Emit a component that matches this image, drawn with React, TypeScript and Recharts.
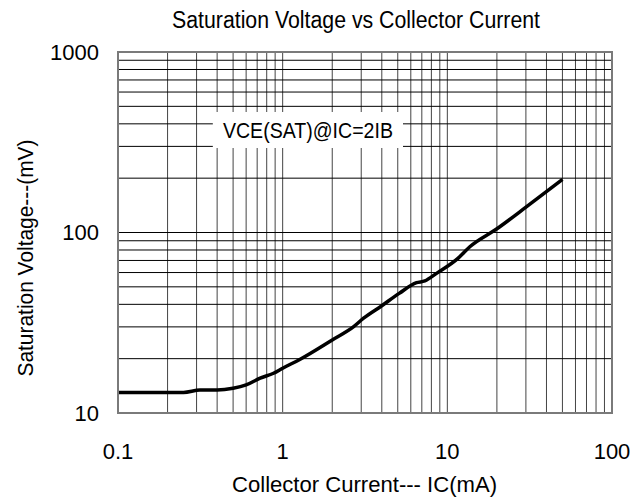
import React from "react";
import { LineChart, Line, XAxis, YAxis, CartesianGrid, ReferenceArea } from "recharts";

const currentMA = [0.1, 0.15, 0.2, 0.25, 0.315, 0.4, 0.5, 0.6, 0.73, 0.88, 1.0, 1.27, 2.0, 2.7, 3.1, 4.0, 5.1, 6.5, 7.3, 8.6, 11.6, 13.7, 19.9, 30.3, 50];
const vceSat = [13.0, 13.0, 13.0, 13.0, 13.4, 13.4, 13.7, 14.3, 15.6, 16.6, 17.7, 19.8, 25.4, 30.1, 33.5, 39.3, 46, 52.7, 53.9, 59.4, 71.9, 83.4, 104.5, 139, 197];

const xTicks = [0.1, 1, 10, 100];
const yTicks = [10, 100, 1000];
const xGrid = [0.1, 0.2, 0.3, 0.4, 0.5, 0.6, 0.7, 0.8, 0.9, 1, 2, 3, 4, 5, 6, 7, 8, 9, 10, 20, 30, 40, 50, 60, 70, 80, 90, 100];
const yGrid = [10, 20, 30, 40, 50, 60, 70, 80, 90, 100, 200, 300, 400, 500, 600, 700, 800, 900, 1000];

const title = "Saturation Voltage vs Collector Current";
const xLabel = "Collector Current--- IC(mA)";
const yLabel = "Saturation Voltage---(mV)";
const noteText = "VCE(SAT)@IC=2IB";
const noteBox = { x1: 0.377, x2: 5.38, y1: 294, y2: 465 };

const data = currentMA.map((x, i) => ({ x, y: vceSat[i] }));

const FONT = "'Liberation Sans', Arial, sans-serif";

const NoteLabel = (props: any) => {
  const vb = props.viewBox || {};
  const cx = vb.x + vb.width / 2;
  const cy = vb.y + vb.height / 2;
  return (
    <g>
      <rect x={vb.x} y={vb.y} width={vb.width} height={vb.height} fill="#fff" />
      <text x={cx} y={cy + 8} textAnchor="middle" fontFamily={FONT} fontSize={22} fill="#000" textLength={170} lengthAdjust="spacingAndGlyphs">
        {noteText}
      </text>
    </g>
  );
};

export default function App() {
  return (
    <div style={{ position: "absolute", left: 0, top: 0, width: 642, height: 498, background: "#fff" }}>
      <LineChart width={642} height={498} data={data} margin={{ top: 52, right: 30, bottom: 0, left: 0 }}>
        <CartesianGrid horizontal={false} verticalValues={xGrid} stroke="#444" strokeWidth={1} strokeDasharray="" />
        <CartesianGrid vertical={false} horizontalValues={yGrid} stroke="#000" strokeWidth={1} strokeDasharray="" />
        <XAxis
          dataKey="x"
          type="number"
          scale="log"
          domain={[0.1, 100]}
          allowDataOverflow
          ticks={xTicks}
          tickLine={false}
          tickSize={0}
          tickMargin={30}
          height={85}
          axisLine={{ stroke: "#7a7a7a", strokeWidth: 2 }}
          tick={{ fontSize: 22, fill: "#000", fontFamily: FONT }}
          interval={0}
        />
        <YAxis
          type="number"
          scale="log"
          domain={[10, 1000]}
          allowDataOverflow
          ticks={yTicks}
          tickLine={false}
          tickSize={0}
          tickMargin={19}
          width={118}
          axisLine={{ stroke: "#7a7a7a", strokeWidth: 2 }}
          tick={{ fontSize: 22, fill: "#000", fontFamily: FONT }}
          interval={0}
        />
        <ReferenceArea x1={0.1} x2={100} y1={10} y2={1000} fill="none" stroke="#7a7a7a" strokeWidth={2} />
        <ReferenceArea
          x1={noteBox.x1}
          x2={noteBox.x2}
          y1={noteBox.y1}
          y2={noteBox.y2}
          fill="#fff"
          fillOpacity={1}
          stroke="none"
          label={<NoteLabel />}
        />
        <Line type="monotone" dataKey="y" stroke="#000" strokeWidth={3.5} dot={false} isAnimationActive={false} />
        <text x={356} y={28} textAnchor="middle" fontFamily={FONT} fontSize={23} fill="#000" textLength={368} lengthAdjust="spacingAndGlyphs">
          {title}
        </text>
        <text x={364.5} y={492} textAnchor="middle" fontFamily={FONT} fontSize={22} fill="#000" textLength={265} lengthAdjust="spacingAndGlyphs">
          {xLabel}
        </text>
        <text x={33} y={258} transform="rotate(-90 33 258)" textAnchor="middle" fontFamily={FONT} fontSize={22} fill="#000" textLength={237} lengthAdjust="spacingAndGlyphs">
          {yLabel}
        </text>
      </LineChart>
    </div>
  );
}
